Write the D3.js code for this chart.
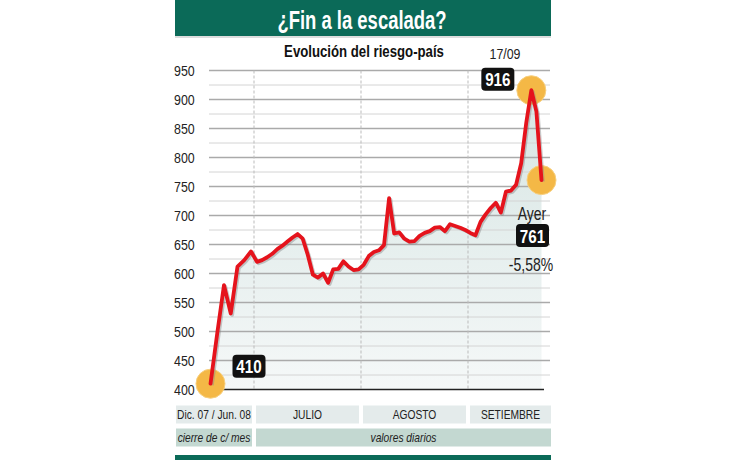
<!DOCTYPE html>
<html>
<head>
<meta charset="utf-8">
<script src="https://cdn.jsdelivr.net/npm/d3@7"></script>
<style>
  body { margin: 0; background: #fff; }
  svg { display: block; }
  text { font-family: "Liberation Sans", Arial, sans-serif; }
</style>
</head>
<body>
<svg id="graph" width="730" height="460"></svg>
<script>
// monthly closes Dec 07 .. Jun 08
var monthLabels = ["Dic 07", "Ene 08", "Feb 08", "Mar 08", "Abr 08", "May 08", "Jun 08"];
var monthValues = [410, 497, 580, 531, 612, 623, 638];

// daily values, trading days 1/07 .. 19/09
var dailyValues = [
  620, 623, 628, 634, 642, 648, 655, 662, 668, 660,
  632, 598, 593, 600, 584, 607, 608, 621, 612, 606,
  607, 615, 630, 637, 640, 649, 730, 669, 671, 660,
  655, 656, 665, 670, 673, 679, 680, 673, 685, 682,
  679, 675, 670, 666, 689, 702, 713, 722, 705, 741,
  743, 753, 790, 860, 916, 879, 761
];

var yTicks = [400, 450, 500, 550, 600, 650, 700, 750, 800, 850, 900, 950];
var sections = ["Dic. 07 / Jun. 08", "JULIO", "AGOSTO", "SETIEMBRE"];
var subLabels = ["cierre de c/ mes", "valores diarios"];

var green = "#0b6a58";
var narrow = 0.8; // the original uses a condensed face, squeeze Liberation Sans
var svg = d3.select("#graph");

// condensed text helper
function ntext(parent, x, y, txt, size, opts) {
  opts = opts || {};
  var g = parent.append("g").attr("transform", `translate(${x},${y}) scale(${opts.sx || narrow},1)`);
  var t = g.append("text").attr("x", 0).attr("y", 0)
    .attr("text-anchor", opts.anchor || "middle")
    .attr("fill", opts.fill || "#222")
    .style("font-size", size + "px")
    .text(txt);
  if (opts.bold) t.style("font-weight", "bold");
  if (opts.italic) t.style("font-style", "italic");
  return g;
}

// scales
var y = d3.scaleLinear().domain([400, 950]).range([389.5, 70.5]);
var xMonth = d3.scalePoint().domain(monthLabels).range([210.5, 251]);
var xDay = d3.scaleLinear().domain([0, dailyValues.length - 1]).range([257, 541.5]);
// bottom table columns (unequal widths)
var colEdges = [176, 254, 361, 468, 551];

// build single point list
var points = monthLabels.map((m, i) => ({ x: xMonth(m), v: monthValues[i] }))
  .concat(dailyValues.map((v, i) => ({ x: xDay(i), v: v })));

// title
svg.append("rect").attr("x", 175).attr("y", 0).attr("width", 376).attr("height", 36).attr("fill", green);
svg.append("line").attr("x1", 175).attr("x2", 551).attr("y1", 37).attr("y2", 37).attr("stroke", "#bbb");
ntext(svg, 362, 29, "¿Fin a la escalada?", 26, { fill: "#fff", bold: true, sx: 0.71 });
ntext(svg, 364, 57, "Evolución del riesgo-país", 16.5, { fill: "#111", bold: true });

// area gradient
var defs = svg.append("defs");
var grad = defs.append("linearGradient").attr("id", "fillGrad").attr("x1", 0).attr("x2", 0).attr("y1", 0).attr("y2", 1);
grad.append("stop").attr("offset", "0%").attr("stop-color", "#d6e5e3");
grad.append("stop").attr("offset", "100%").attr("stop-color", "#f5f8f8");

var area = d3.area().x(d => d.x).y0(y(400)).y1(d => y(d.v));
svg.append("path").datum(points).attr("d", area).attr("fill", "url(#fillGrad)");

// grid
var minor = d3.range(425, 950, 50);
svg.selectAll(".minor").data(minor).join("line").attr("class", "minor")
  .attr("x1", 209).attr("x2", 550).attr("y1", d => y(d)).attr("y2", d => y(d))
  .attr("stroke", "#d4d4d4").attr("stroke-width", 1);
svg.selectAll(".major").data(yTicks.slice(1)).join("line").attr("class", "major")
  .attr("x1", 209).attr("x2", 550).attr("y1", d => y(d)).attr("y2", d => y(d))
  .attr("stroke", "#aaa").attr("stroke-width", 1.3);
svg.selectAll(".vdash").data(colEdges.slice(1, 4)).join("line").attr("class", "vdash")
  .attr("x1", d => d).attr("x2", d => d).attr("y1", y(950)).attr("y2", y(400))
  .attr("stroke", "#bbb").attr("stroke-dasharray", "3,2");
svg.append("line").attr("x1", 209).attr("x2", 544).attr("y1", y(400)).attr("y2", y(400))
  .attr("stroke", "#222").attr("stroke-width", 1.6);

// y labels
yTicks.forEach(d => ntext(svg, 174, y(d) + 5, d, 15.5, { anchor: "start" }));

// highlight circles
var first = points[0], peak = points[points.length - 3], last = points[points.length - 1];
svg.selectAll(".hl").data([first, peak, last]).join("circle").attr("class", "hl")
  .attr("cx", d => d.x).attr("cy", d => y(d.v)).attr("r", 14.5)
  .attr("fill", "#f4b846").attr("stroke", "#f7cf7e").attr("stroke-width", 1);

// line with shadow
var line = d3.line().x(d => d.x).y(d => y(d.v));
svg.append("path").datum(points).attr("d", line).attr("transform", "translate(1.5,1.5)")
  .attr("fill", "none").attr("stroke", "#888").attr("stroke-opacity", 0.45)
  .attr("stroke-width", 3.5).attr("stroke-linejoin", "round");
svg.append("path").datum(points).attr("d", line)
  .attr("fill", "none").attr("stroke", "#e5131c").attr("stroke-width", 3.8)
  .attr("stroke-linejoin", "round").attr("stroke-linecap", "round");

// value badges
function badge(cx, cy, txt) {
  svg.append("rect").attr("x", cx - 16.5).attr("y", cy - 11.5).attr("width", 33).attr("height", 23)
    .attr("rx", 4).attr("fill", "#111");
  ntext(svg, cx, cy + 7, txt, 19, { fill: "#fff", bold: true });
}
badge(first.x + 38.5, y(first.v) - 17.5, first.v);
badge(peak.x - 33.5, y(peak.v) - 11, peak.v);
badge(last.x - 9, y(last.v) + 55.5, last.v);

ntext(svg, 505, 59, "17/09", 15.5);
ntext(svg, 532, 220, "Ayer", 17.5);
ntext(svg, 531, 271, "-5,58%", 17.5);

// bottom table
var row1 = sections.map((s, i) => ({ label: s, x0: colEdges[i] + (i ? 2 : 0), x1: colEdges[i + 1] - (i < 3 ? 2 : 0) }));
svg.selectAll(".cell1").data(row1).join("rect").attr("class", "cell1")
  .attr("x", d => d.x0).attr("y", 405.5).attr("width", d => d.x1 - d.x0).attr("height", 18).attr("fill", "#e4ebeb");
row1.forEach(d => ntext(svg, (d.x0 + d.x1) / 2, 419, d.label, 12.8));

var row2 = [
  { label: subLabels[0], x0: colEdges[0], x1: colEdges[1] - 2 },
  { label: subLabels[1], x0: colEdges[1] + 2, x1: colEdges[4] }
];
svg.selectAll(".cell2").data(row2).join("rect").attr("class", "cell2")
  .attr("x", d => d.x0).attr("y", 428.5).attr("width", d => d.x1 - d.x0).attr("height", 18).attr("fill", "#c3d8d1");
row2.forEach(d => ntext(svg, (d.x0 + d.x1) / 2, 442, d.label, 12.8, { italic: true }));

svg.append("rect").attr("x", 175).attr("y", 455).attr("width", 376).attr("height", 5).attr("fill", green);
</script>
</body>
</html>
